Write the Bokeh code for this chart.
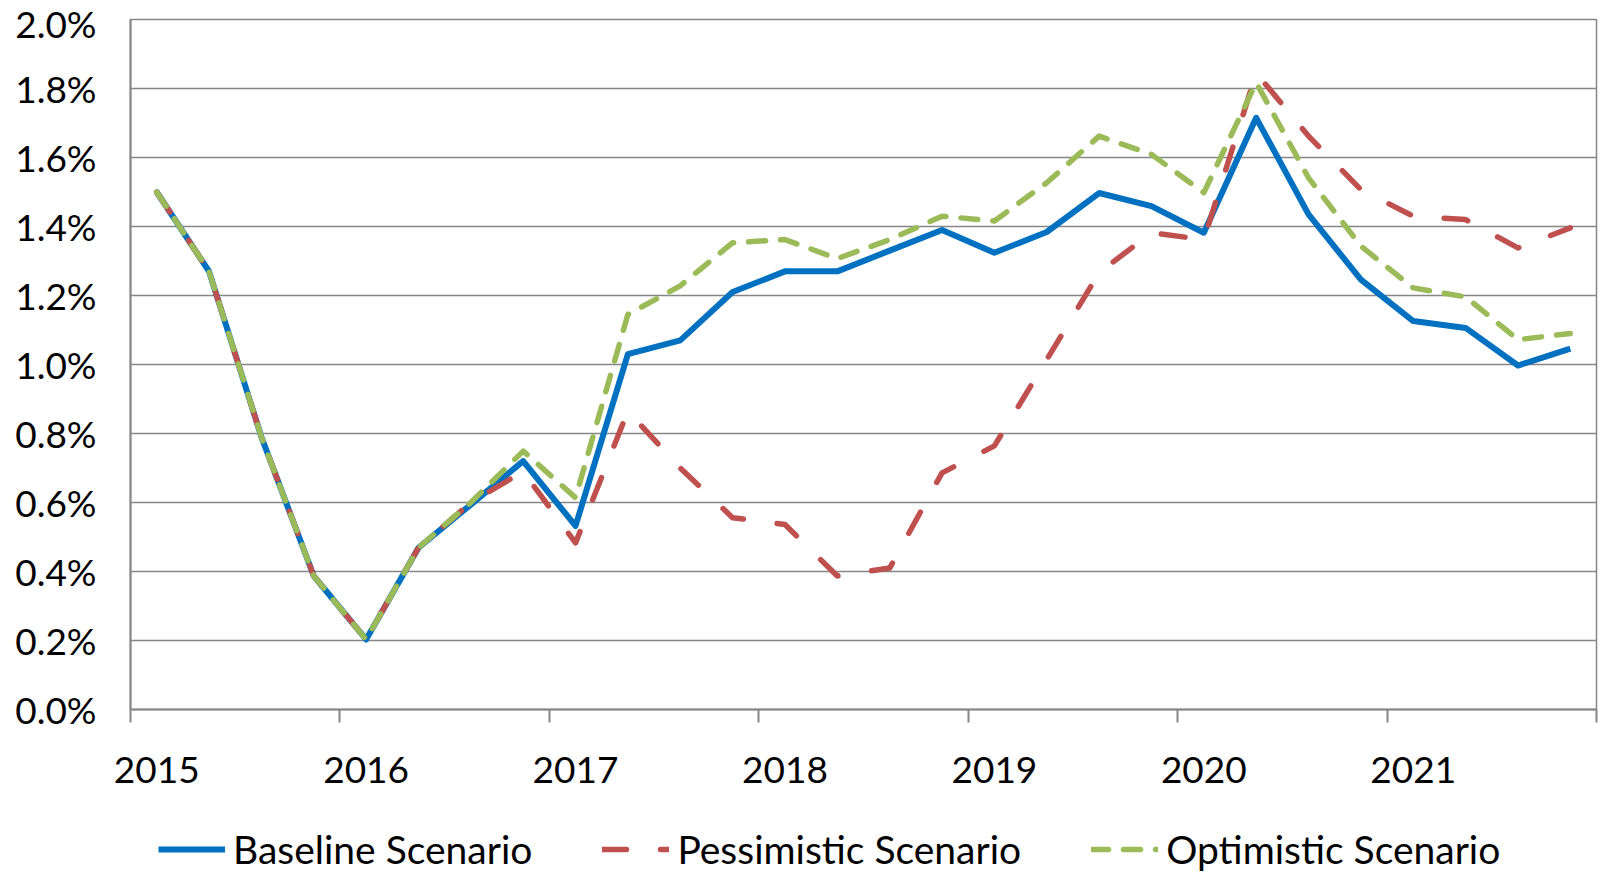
from bokeh.plotting import figure
from bokeh.layouts import column
from bokeh.models import (Range1d, FixedTicker, PrintfTickFormatter, Legend, LegendItem)
from bokeh.embed import file_html
from bokeh.resources import INLINE

# ---- data (percent, quarterly 2015Q1 .. 2021Q4) ----
years = ["2015", "2016", "2017", "2018", "2019", "2020", "2021"]
quarters_per_year = 4
baseline = [1.50, 1.27, 0.79, 0.387, 0.203, 0.469, 0.594, 0.72, 0.532, 1.03,
            1.07, 1.21, 1.27, 1.27, 1.33, 1.39, 1.324, 1.384, 1.497, 1.459,
            1.382, 1.715, 1.435, 1.246, 1.126, 1.106, 0.997, 1.046]
pessimistic = [1.50, 1.27, 0.79, 0.387, 0.203, 0.469, 0.60, 0.69, 0.483, 0.865,
               0.70, 0.556, 0.536, 0.387, 0.41, 0.686, 0.764, 1.014, 1.266, 1.382,
               1.362, 1.845, 1.662, 1.507, 1.43, 1.42, 1.338, 1.396]
optimistic = [1.50, 1.27, 0.79, 0.387, 0.203, 0.469, 0.60, 0.749, 0.614, 1.145,
              1.228, 1.353, 1.362, 1.307, 1.362, 1.43, 1.416, 1.527, 1.662, 1.609,
              1.498, 1.817, 1.541, 1.343, 1.222, 1.196, 1.072, 1.090]
series_names = ["Baseline Scenario", "Pessimistic Scenario", "Optimistic Scenario"]
y_ticks = [0.0, 0.2, 0.4, 0.6, 0.8, 1.0, 1.2, 1.4, 1.6, 1.8, 2.0]

n = len(baseline)
x = list(range(n))
all_series = [baseline, pessimistic, optimistic]

FONT = "Lato"
GRID = "#868686"
FS = "37px"
styles = [dict(line_color="#0070C0", line_width=6, line_join="round"),
          dict(line_color="#C0504D", line_width=5.5, line_dash="24 34",
               line_cap="round", line_join="round"),
          dict(line_color="#9BBB59", line_width=5.5, line_dash="17 15",
               line_cap="round", line_join="round")]

p = figure(width=1598, height=800, output_backend="svg", toolbar_location=None,
           x_range=Range1d(-0.5, n - 0.5), y_range=Range1d(0, 2.0),
           min_border_left=130, min_border_top=19, min_border_right=2,
           min_border_bottom=91)
p.background_fill_color = "white"
p.border_fill_color = "white"
p.outline_line_color = GRID
p.outline_line_width = 1.5

# y axis
p.yaxis.ticker = FixedTicker(ticks=y_ticks)
p.yaxis.formatter = PrintfTickFormatter(format="%.1f%%")
p.yaxis.major_tick_out = 0
p.yaxis.major_tick_in = 0
p.yaxis.minor_tick_out = 0
p.yaxis.minor_tick_in = 0
p.yaxis.axis_line_color = GRID
p.yaxis.axis_line_width = 2
p.yaxis.major_label_text_font = FONT
p.yaxis.major_label_text_font_size = FS
p.yaxis.major_label_text_color = "black"
p.yaxis.major_label_standoff = 34

# x axis: labels at first quarter of each year, ticks at year boundaries
label_pos = [i * quarters_per_year for i in range(len(years))]
bounds = [i * quarters_per_year - 0.5 for i in range(len(years) + 1)]
p.xaxis.ticker = FixedTicker(ticks=label_pos, minor_ticks=bounds)
p.xaxis.major_label_overrides = {lp: yr for lp, yr in zip(label_pos, years)}
p.xaxis.major_tick_out = 0
p.xaxis.major_tick_in = 0
p.xaxis.minor_tick_out = 13
p.xaxis.minor_tick_in = 0
p.xaxis.minor_tick_line_color = GRID
p.xaxis.minor_tick_line_width = 2
p.xaxis.axis_line_color = GRID
p.xaxis.axis_line_width = 2
p.xaxis.major_label_text_font = FONT
p.xaxis.major_label_text_font_size = FS
p.xaxis.major_label_text_color = "black"
p.xaxis.major_label_standoff = 34

p.xgrid.visible = False
p.ygrid.ticker = FixedTicker(ticks=y_ticks[1:])
p.ygrid.grid_line_color = GRID
p.ygrid.grid_line_width = 1.5

for vals, st in zip(all_series, styles):
    p.line(x, vals, **st)

# ---- legend strip below the chart (its series lie outside its view) ----
lg = figure(width=1598, height=72, output_backend="svg", toolbar_location=None,
            x_axis_location=None, y_axis_location=None,
            x_range=Range1d(-200, -199), y_range=Range1d(-200, -199),
            min_border=0, min_border_left=0, min_border_right=0,
            min_border_top=0, min_border_bottom=0)
lg.outline_line_color = None
lg.grid.visible = False
lg.background_fill_color = "white"
lg.border_fill_color = "white"
items = []
for name, vals, st in zip(series_names, all_series, styles):
    rr = lg.line(x, vals, **st)
    items.append(LegendItem(label=name, renderers=[rr]))
legend = Legend(items=items, orientation="horizontal", location=(28, 0),
                glyph_width=67, glyph_height=30, label_standoff=8, spacing=70,
                padding=0, margin=0, border_line_color=None,
                background_fill_alpha=0,
                label_text_font=FONT, label_text_font_size="39px",
                label_text_color="black")
lg.add_layout(legend, "center")

layout = column(p, lg, spacing=0)
open("out.html", "w").write(file_html(layout, INLINE))
